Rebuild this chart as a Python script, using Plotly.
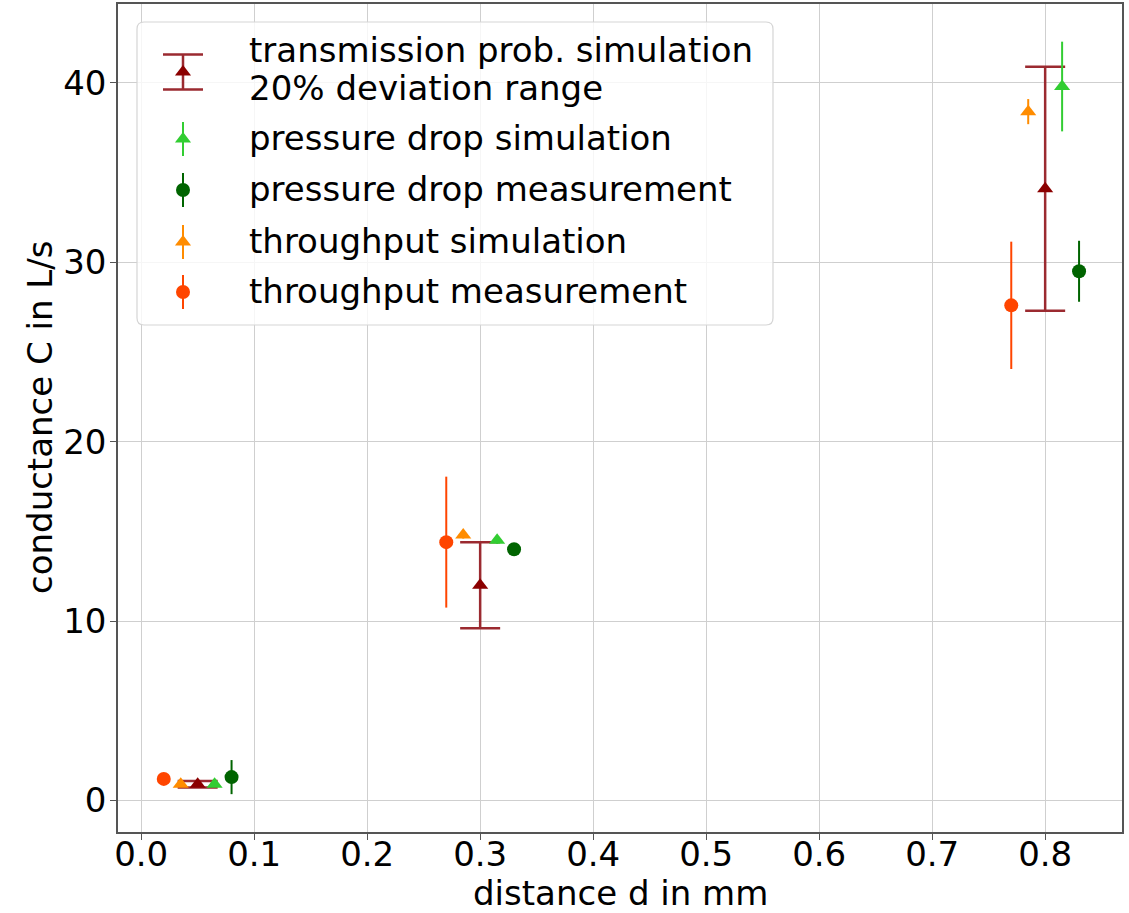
import plotly.graph_objects as go

# ---------------- data ----------------
trans_x = [0.05, 0.30, 0.80]
trans_y = [0.9, 12.0, 34.1]
trans_err = [0.18, 2.4, 6.8]          # 20% deviation range

pds_x = [0.065, 0.315, 0.815]
pds_y = [0.9, 14.5, 39.8]
pds_err = [0.1, 0.2, 2.5]

pdm_x = [0.08, 0.33, 0.83]
pdm_y = [1.3, 14.0, 29.5]
pdm_err = [0.95, 0.3, 1.7]

tps_x = [0.035, 0.285, 0.785]
tps_y = [0.9, 14.8, 38.4]
tps_err = [0.1, 0.2, 0.7]

tpm_x = [0.02, 0.27, 0.77]
tpm_y = [1.2, 14.4, 27.6]
tpm_err = [0.3, 3.65, 3.55]

legend_labels = [
    ["transmission prob. simulation", "20% deviation range"],
    ["pressure drop simulation"],
    ["pressure drop measurement"],
    ["throughput simulation"],
    ["throughput measurement"],
]

x_ticks = [0.0, 0.1, 0.2, 0.3, 0.4, 0.5, 0.6, 0.7, 0.8]
y_ticks = [0, 10, 20, 30, 40]
x_title = "distance d in mm"
y_title = "conductance C in L/s"

# ---------------- styles ----------------
FONT = "DejaVu Sans"
FS = 34
C_TR = "#8B0000"
C_TR_ERR = "#9b2a30"
C_PDS = "#32CD32"
C_PDM = "#006400"
C_TPS = "#FF8C00"
C_TPM = "#FF4500"

series = [
    dict(x=trans_x, y=trans_y, e=trans_err, color=C_TR, ecolor=C_TR_ERR, symbol="triangle-up", cap=20, ew=2.5),
    dict(x=pds_x, y=pds_y, e=pds_err, color=C_PDS, ecolor=C_PDS, symbol="triangle-up", cap=0, ew=2),
    dict(x=pdm_x, y=pdm_y, e=pdm_err, color=C_PDM, ecolor=C_PDM, symbol="circle", cap=0, ew=2),
    dict(x=tps_x, y=tps_y, e=tps_err, color=C_TPS, ecolor=C_TPS, symbol="triangle-up", cap=0, ew=2),
    dict(x=tpm_x, y=tpm_y, e=tpm_err, color=C_TPM, ecolor=C_TPM, symbol="circle", cap=0, ew=2),
]

W, H = 1129, 913
L, R, T, B = 118, 1122, 4, 832
XR = [-0.0205, 0.868]
YR = [-1.76, 44.4]


def px2x(px):
    return XR[0] + (px - L) / (R - L) * (XR[1] - XR[0])


def py2y(py):
    return YR[1] - (py - T) / (B - T) * (YR[1] - YR[0])


fig = go.Figure()

for s in series:
    fig.add_trace(go.Scatter(
        x=s["x"], y=s["y"], mode="markers",
        marker=dict(symbol=s["symbol"], size=14, color=s["color"], line=dict(width=0)),
        error_y=dict(type="data", array=s["e"], visible=True, color=s["ecolor"],
                     thickness=s["ew"], width=s["cap"]),
        showlegend=False, hoverinfo="skip",
    ))

# ---------------- manual legend (glyphs on a pixel-overlay axis) ----------------
glyph_x = 183
text_x = 247
glyph_y = [72, 139, 190, 242, 292]
text_rows = [[50, 88], [138], [189], [241], [291]]
glyph_err = [17.5, 17, 17, 17, 17]

for s, gy, ge in zip(series, glyph_y, glyph_err):
    fig.add_trace(go.Scatter(
        x=[glyph_x], y=[gy], mode="markers", xaxis="x2", yaxis="y2",
        marker=dict(symbol=s["symbol"], size=14, color=s["color"], line=dict(width=0)),
        error_y=dict(type="data", array=[ge], visible=True, color=s["ecolor"],
                     thickness=s["ew"] if s["cap"] else 2, width=s["cap"]),
        showlegend=False, hoverinfo="skip",
    ))

for labs, rows in zip(legend_labels, text_rows):
    for lab, ty in zip(labs, rows):
        fig.add_annotation(x=(text_x - L) / (R - L), y=(B - ty) / (B - T),
                           xref="paper", yref="paper", text=lab,
                           showarrow=False, xanchor="left", yanchor="middle", align="left",
                           font=dict(family=FONT, size=FS, color="black"))

# rounded legend frame (data coords of main axes so it can sit between grid and marks)
bx0, bx1, by0, by1, r = 137, 773, 22, 325, 7
X = lambda p: f"{px2x(p):.6f}"
Y = lambda p: f"{py2y(p):.6f}"
path = (f"M {X(bx0+r)},{Y(by0)} L {X(bx1-r)},{Y(by0)} Q {X(bx1)},{Y(by0)} {X(bx1)},{Y(by0+r)} "
        f"L {X(bx1)},{Y(by1-r)} Q {X(bx1)},{Y(by1)} {X(bx1-r)},{Y(by1)} L {X(bx0+r)},{Y(by1)} "
        f"Q {X(bx0)},{Y(by1)} {X(bx0)},{Y(by1-r)} L {X(bx0)},{Y(by0+r)} Q {X(bx0)},{Y(by0)} {X(bx0+r)},{Y(by0)} Z")
fig.add_shape(type="path", path=path, xref="x", yref="y",
              fillcolor="rgba(255,255,255,0.8)", line=dict(color="#d5d5d5", width=1.2),
              layer="between")

# axis titles as annotations for exact placement
fig.add_annotation(x=0.5, y=(B - 893) / (B - T), xref="paper", yref="paper",
                   text=x_title, showarrow=False, xanchor="center", yanchor="middle",
                   font=dict(family=FONT, size=FS, color="black"))
fig.add_annotation(x=(40 - L) / (R - L), y=0.5, xref="paper", yref="paper",
                   text=y_title, showarrow=False, xanchor="center", yanchor="middle",
                   textangle=-90, font=dict(family=FONT, size=FS, color="black"))

axis_common = dict(
    showgrid=True, gridcolor="#cfcfcf", gridwidth=1, zeroline=False,
    showline=True, mirror=True, linecolor="#555555", linewidth=1.5,
    ticks="outside", ticklen=6, tickcolor="#555555", tickwidth=1.2,
    tickfont=dict(family=FONT, size=FS, color="black"), automargin=False,
)

fig.update_layout(
    width=W, height=H,
    margin=dict(l=L, r=W - R, t=T, b=H - B, autoexpand=False),
    paper_bgcolor="white", plot_bgcolor="white",
    font=dict(family=FONT, size=FS, color="black"),
    xaxis=dict(range=XR, tickvals=x_ticks, tickformat=".1f", ticklabelstandoff=-15, **axis_common),
    yaxis=dict(range=YR, tickvals=y_ticks, ticklabelstandoff=-3, **axis_common),
    xaxis2=dict(range=[L, R], domain=[0, 1], overlaying="x", anchor="y2",
                visible=False, showgrid=False, zeroline=False, fixedrange=True),
    yaxis2=dict(range=[B, T], domain=[0, 1], overlaying="y", anchor="x2",
                visible=False, showgrid=False, zeroline=False, fixedrange=True),
    showlegend=False,
)

fig.write_html("out.html", config={"displayModeBar": False},
               post_script="document.body.style.margin='0px';document.body.style.overflow='hidden';")
